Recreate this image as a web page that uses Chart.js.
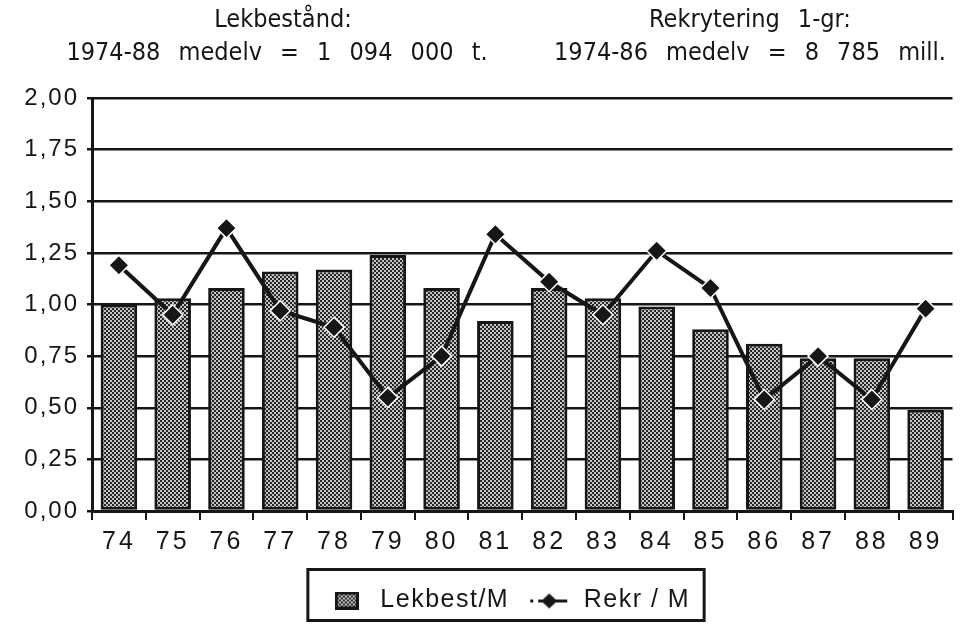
<!DOCTYPE html>
<html lang="sv">
<head>
<meta charset="UTF-8">
<title>Lekbestånd och rekrytering 1974-89</title>
<script src="https://cdn.jsdelivr.net/npm/chart.js"></script>
<style>
  html, body { margin: 0; padding: 0; background: #fff; }
  #wrap { width: 964px; height: 627px; }
</style>
</head>
<body>
<div id="wrap"><canvas id="chart" width="964" height="627"></canvas></div>
<script>
// data
const years = ['74', '75', '76', '77', '78', '79', '80', '81', '82', '83', '84', '85', '86', '87', '88', '89'];
const lekbest = [1.00, 1.03, 1.08, 1.16, 1.17, 1.24, 1.08, 0.92, 1.08, 1.03, 0.99, 0.88, 0.81, 0.74, 0.74, 0.49];
const rekr = [1.19, 0.95, 1.37, 0.97, 0.89, 0.55, 0.75, 1.34, 1.11, 0.95, 1.26, 1.08, 0.54, 0.75, 0.54, 0.98];
const yTickLabels = ['0,00', '0,25', '0,50', '0,75', '1,00', '1,25', '1,50', '1,75', '2,00'];
const headLeft = ['Lekbestånd:', '1974-88 medelv = 1 094 000 t.'];
const headRight = ['Rekrytering 1-gr:', '1974-86 medelv = 8 785 mill.'];

const ink = '#161616';
const fontFam = '"Liberation Sans", Arial, sans-serif';
const headFam = '"DejaVu Sans Condensed", "Liberation Sans", sans-serif';
const canvas = document.getElementById('chart');
const ctx = canvas.getContext('2d');

// stippled grey fill like the old printout
function makePattern() {
    const c = document.createElement('canvas');
    c.width = 4; c.height = 4;
    const g = c.getContext('2d');
    g.fillStyle = '#c4c4c4';
    g.fillRect(0, 0, 4, 4);
    g.fillStyle = '#262626';
    g.fillRect(0, 0, 2, 2);
    g.fillRect(2, 2, 2, 2);
    return ctx.createPattern(c, 'repeat');
}
const stipple = makePattern();

// legend icons
function barIcon() {
    const c = document.createElement('canvas');
    c.width = 24; c.height = 18;
    const g = c.getContext('2d');
    g.fillStyle = stipple;
    g.fillRect(0, 0, 24, 18);
    g.strokeStyle = ink; g.lineWidth = 3;
    g.strokeRect(1.5, 1.5, 21, 15);
    return c;
}
function lineIcon() {
    const c = document.createElement('canvas');
    c.width = 42; c.height = 18;
    const g = c.getContext('2d');
    g.fillStyle = ink;
    g.fillRect(1, 8, 3, 3);
    g.strokeStyle = ink; g.lineWidth = 3;
    g.beginPath(); g.moveTo(9, 9.5); g.lineTo(38, 9.5); g.stroke();
    g.beginPath();
    g.moveTo(20, 2); g.lineTo(28, 9.5); g.lineTo(20, 17); g.lineTo(12, 9.5);
    g.closePath(); g.fill();
    return c;
}
const icons = [barIcon(), lineIcon()];

// letter spacing for axis and legend text
function spaced(obj, px) {
    if (!obj || obj._spaced) return;
    ['update', 'draw'].forEach(fn => {
        const orig = obj[fn].bind(obj);
        obj[fn] = function (...args) {
            const c = this.ctx;
            c.save();
            c.letterSpacing = px;
            const r = orig(...args);
            c.restore();
            return r;
        };
    });
    obj._spaced = true;
}

const extras = {
    id: 'extras',
    beforeLayout(chart) {
        spaced(chart.scales.x, '3px');
        spaced(chart.scales.y, '2px');
        spaced(chart.legend, '1.5px');
    },
    afterLayout(chart) {
        // the legend box sits a bit right of the page centre
        chart.legend.left += 29;
        chart.legend.right += 29;
    },
    afterDraw(chart) {
        const c = chart.ctx;
        c.save();
        c.fillStyle = ink;
        c.textAlign = 'center';
        c.textBaseline = 'middle';
        c.font = '25px ' + headFam;
        c.wordSpacing = '11px';
        [[headLeft[0], 283, 20], [headLeft[1], 277, 53], [headRight[0], 750, 20], [headRight[1], 750, 53]]
            .forEach(([t, x, y]) => c.fillText(t, x, y));
        c.restore();

        // frame around the legend
        const lg = chart.legend;
        const boxes = lg.legendHitBoxes;
        if (boxes && boxes.length) {
            const l = Math.min(...boxes.map(b => b.left)) - 18;
            const r = Math.max(...boxes.map(b => b.left + b.width)) + 14;
            c.save();
            c.strokeStyle = ink;
            c.lineWidth = 3;
            c.strokeRect(l, lg.top + 1.5, r - l, lg.bottom - lg.top - 4);
            c.restore();
        }
    }
};

new Chart(ctx, {
    type: 'bar',
    data: {
        labels: years,
        datasets: [
            {
                type: 'bar',
                label: 'Lekbest/M',
                data: lekbest,
                backgroundColor: stipple,
                borderColor: ink,
                borderWidth: 3,
                borderSkipped: false,
                barPercentage: 0.68,
                categoryPercentage: 1,
                order: 2
            },
            {
                type: 'line',
                label: 'Rekr / M',
                data: rekr,
                borderColor: ink,
                borderWidth: 4,
                pointStyle: 'rectRot',
                pointRadius: 10,
                pointBackgroundColor: ink,
                pointBorderColor: '#fff',
                pointBorderWidth: 1.5,
                tension: 0,
                order: 1
            }
        ]
    },
    options: {
        responsive: false,
        animation: false,
        layout: { padding: { top: 98, left: 0, right: 6, bottom: 4 } },
        plugins: {
            tooltip: { enabled: false },
            title: { display: false },
            legend: {
                position: 'bottom',
                labels: {
                    usePointStyle: true,
                    pointStyleWidth: 42,
                    padding: 20,
                    color: ink,
                    font: { family: fontFam, size: 25 },
                    generateLabels: chart => chart.data.datasets.map((ds, i) => ({
                        text: ds.label,
                        pointStyle: icons[i],
                        fillStyle: 'transparent',
                        strokeStyle: 'transparent',
                        lineWidth: 0,
                        hidden: false,
                        datasetIndex: i,
                        fontColor: ink
                    }))
                }
            }
        },
        scales: {
            x: {
                offset: true,
                grid: {
                    offset: true,
                    drawOnChartArea: false,
                    drawTicks: true,
                    tickLength: 9,
                    color: ink,
                    lineWidth: 2
                },
                border: { color: ink, width: 3 },
                ticks: {
                    color: ink,
                    padding: 7,
                    font: { family: fontFam, size: 25 }
                },
                afterFit: s => { s.height = 57; }
            },
            y: {
                min: 0,
                max: 2,
                grid: {
                    color: ink,
                    lineWidth: 2.5,
                    drawTicks: true,
                    tickLength: 5
                },
                border: { color: ink, width: 3 },
                ticks: {
                    stepSize: 0.25,
                    color: ink,
                    padding: 8,
                    font: { family: fontFam, size: 24 },
                    callback: (v, i) => yTickLabels[i]
                },
                afterFit: s => { s.width = 92; }
            }
        }
    },
    plugins: [extras]
});
</script>
</body>
</html>
